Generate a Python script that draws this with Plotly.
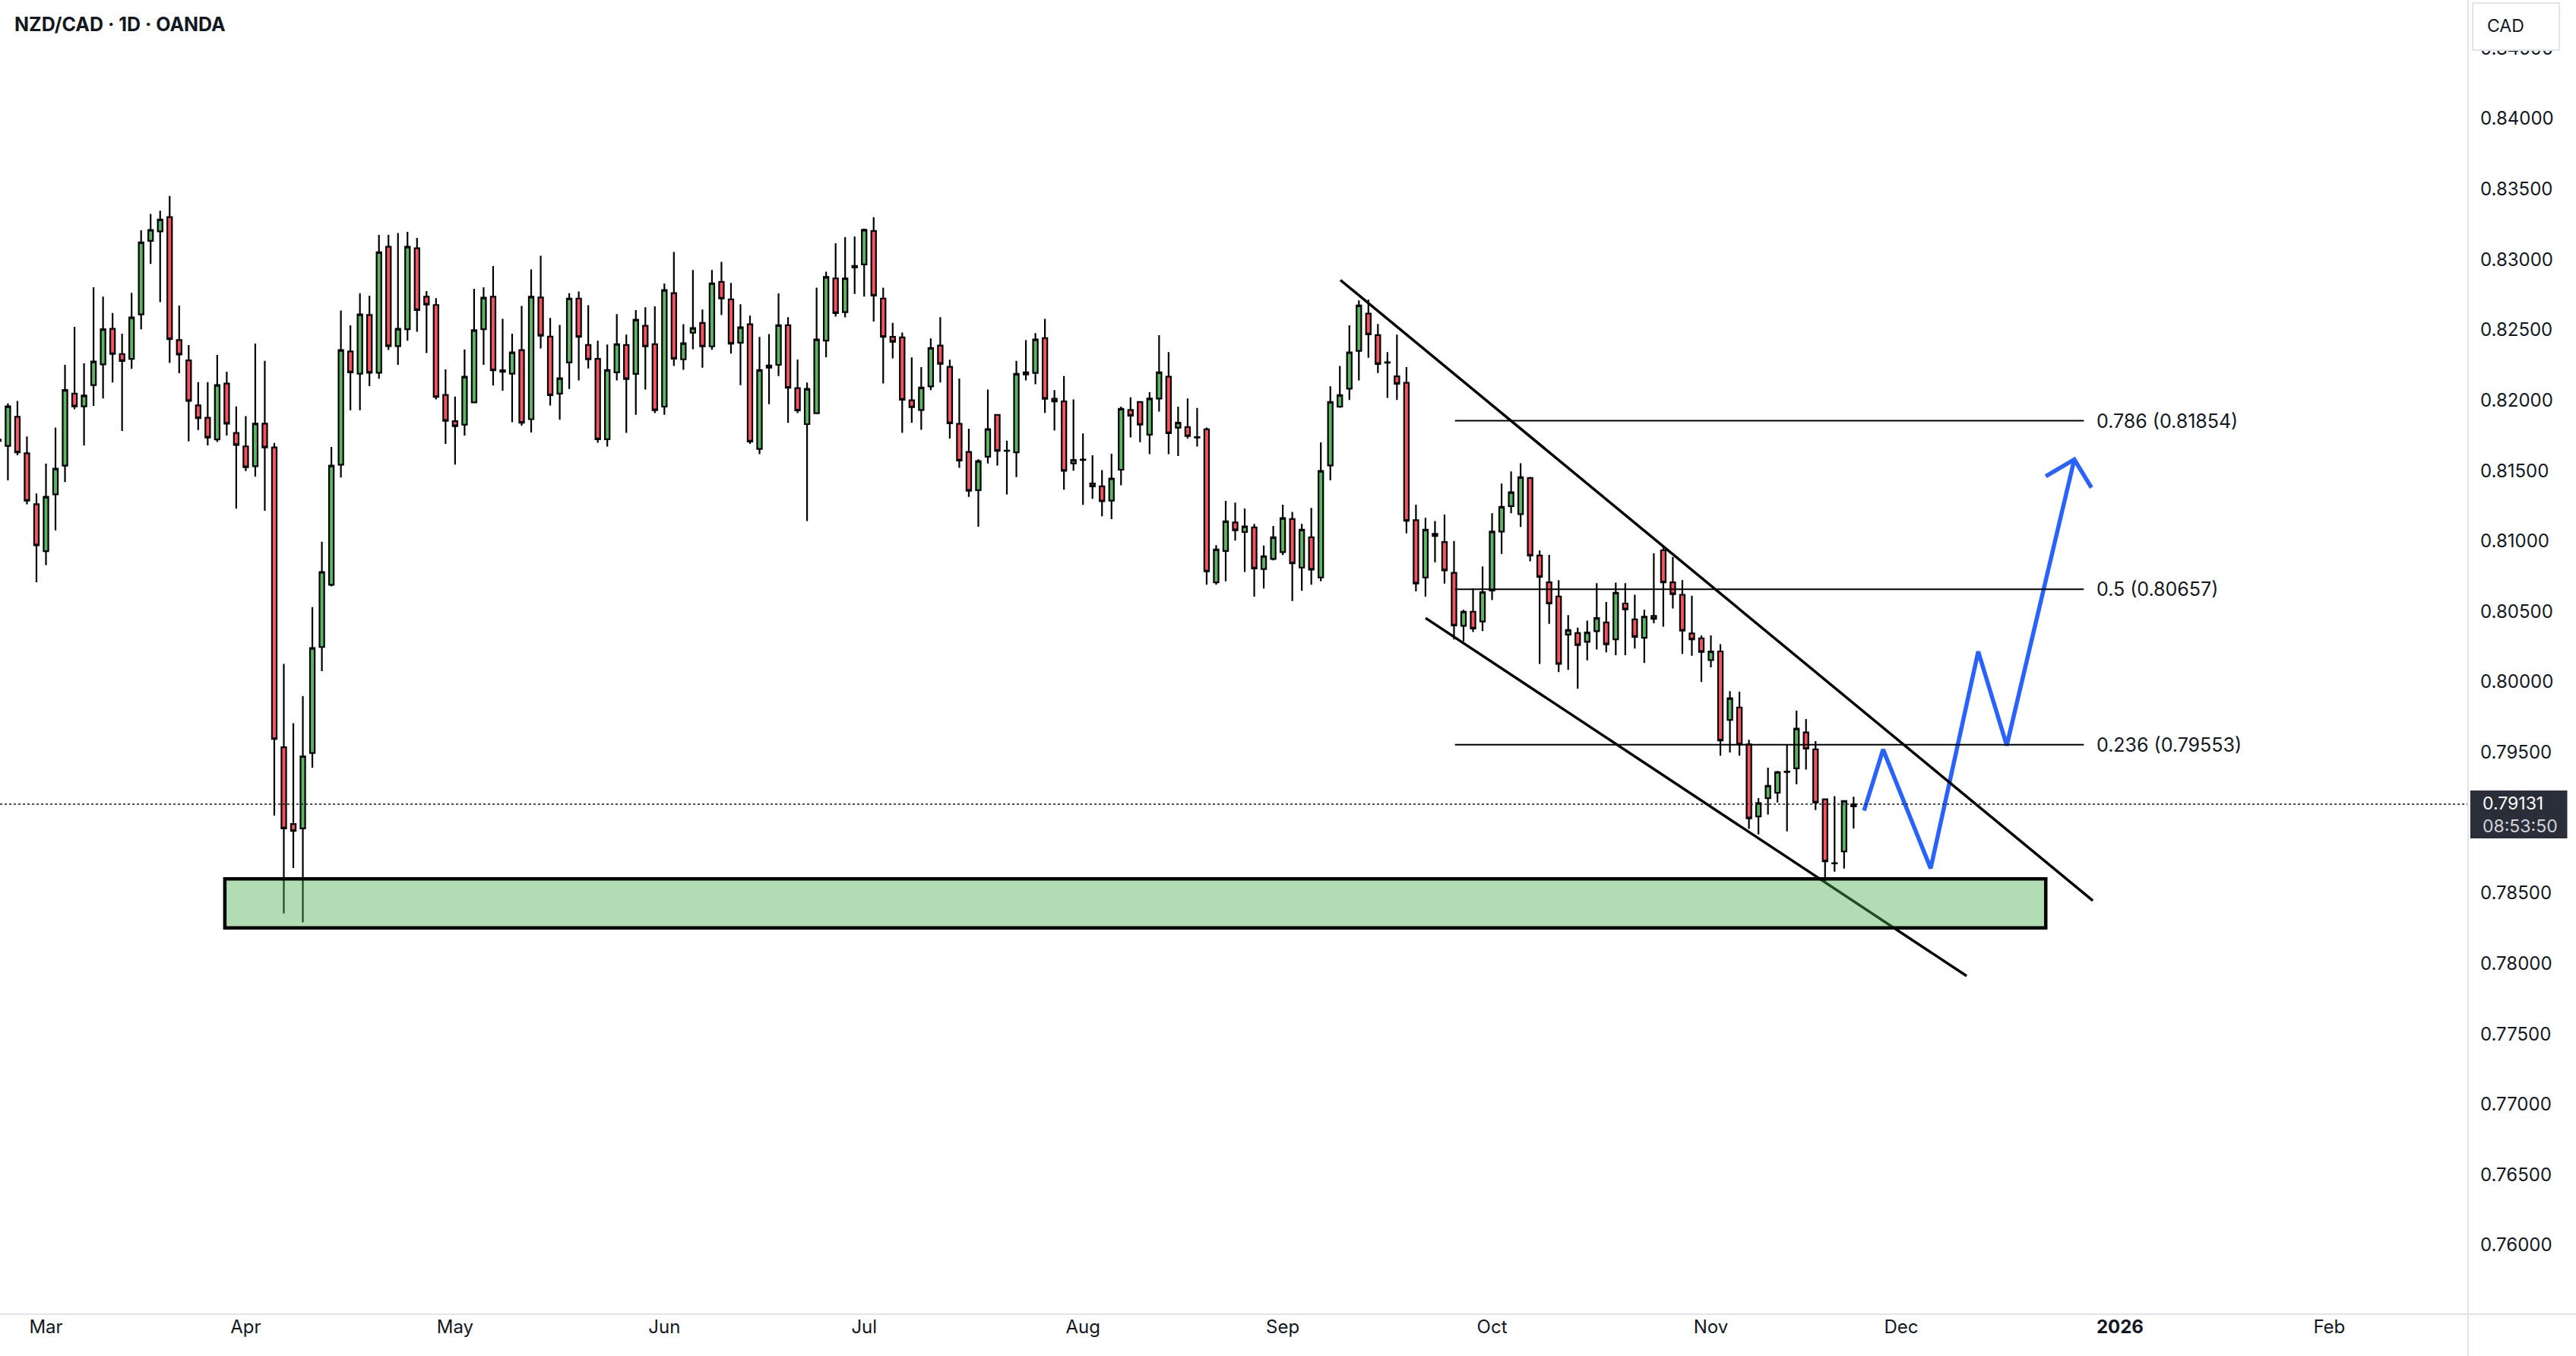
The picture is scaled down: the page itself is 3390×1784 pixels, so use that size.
import numpy as np
import pandas as pd
import plotly.graph_objects as go

# ---------------- data (NZD/CAD daily, OANDA) ----------------
START = "2025-02-24"
opens = [0.81720,0.81675,0.81882,0.81623,0.81261,0.80928,0.81331,0.81535,0.82047,0.81956,
0.82107,0.82254,0.82507,0.82328,0.82293,0.82609,0.83132,0.83199,0.83300,0.82427,
0.82283,0.81963,0.81875,0.81721,0.82118,0.81767,0.81672,0.81531,0.81833,0.81665,
0.79535,0.78990,0.78959,0.79495,0.80247,0.80689,0.81542,0.82346,0.82188,0.82605,
0.82195,0.83090,0.82384,0.82504,0.83079,0.82735,0.82676,0.82037,0.81851,0.81826,
0.81984,0.82504,0.82735,0.82212,0.82188,0.82356,0.81865,0.82729,0.82452,0.82047,
0.82268,0.82722,0.82392,0.82293,0.81723,0.82198,0.82392,0.82187,0.82528,0.82398,
0.81954,0.82760,0.82290,0.82479,0.82549,0.82382,0.82840,0.82716,0.82408,0.82539,
0.81654,0.82231,0.82251,0.82532,0.82086,0.81830,0.81908,0.82423,0.82865,0.82625,
0.82943,0.82964,0.83202,0.82722,0.82450,0.82446,0.81999,0.81931,0.82098,0.82388,
0.82237,0.81832,0.81632,0.81361,0.81598,0.81896,0.81642,0.81630,0.82183,0.82194,
0.82441,0.82010,0.81991,0.81551,0.81578,0.81408,0.81388,0.81287,0.81506,0.81931,
0.81987,0.81755,0.82012,0.82167,0.81805,0.81809,0.81737,0.81793,0.80706,0.80929,
0.81132,0.81064,0.81097,0.80801,0.80873,0.80921,0.81156,0.80811,0.81026,0.80741,
0.81536,0.81954,0.82082,0.82350,0.82615,0.82462,0.82270,0.82169,0.82123,0.81148,
0.80741,0.81035,0.80993,0.80774,0.80397,0.80498,0.80428,0.80649,0.81067,0.81248,
0.81191,0.81447,0.80897,0.80707,0.80606,0.80335,0.80346,0.80284,0.80360,0.80422,
0.80302,0.80556,0.80443,0.80313,0.80468,0.80934,0.80707,0.80618,0.80344,0.80309,
0.80154,0.80216,0.79730,0.79818,0.79556,0.79044,0.79174,0.79212,0.79359,0.79385,
0.79640,0.79521,0.79165,0.78710,0.78796,0.79115]
highs = [0.81760,0.81977,0.81995,0.81742,0.81338,0.81549,0.81805,0.82251,0.82521,0.82262,
0.82802,0.82735,0.82619,0.82472,0.82763,0.83206,0.83322,0.83346,0.83451,0.82672,
0.82391,0.82128,0.82128,0.82321,0.82202,0.81956,0.81886,0.82402,0.82279,0.81696,
0.80127,0.79706,0.79899,0.80531,0.80994,0.81668,0.82637,0.82532,0.82760,0.82742,
0.83174,0.83174,0.83188,0.83195,0.83153,0.82774,0.82725,0.82219,0.82026,0.82360,
0.82791,0.82802,0.82953,0.82577,0.82472,0.82669,0.82928,0.83026,0.82584,0.82534,
0.82760,0.82772,0.82675,0.82423,0.82396,0.82611,0.82466,0.82640,0.82660,0.82666,
0.82828,0.83053,0.82540,0.82925,0.82644,0.82925,0.82983,0.82832,0.82681,0.82600,
0.82450,0.82470,0.82758,0.82590,0.82289,0.82125,0.82799,0.82912,0.83115,0.83158,
0.83162,0.83218,0.83299,0.82799,0.82549,0.82481,0.82303,0.82235,0.82439,0.82590,
0.82287,0.82154,0.81797,0.81580,0.82076,0.81900,0.81712,0.82280,0.82427,0.82477,
0.82578,0.82072,0.82171,0.82005,0.81764,0.81609,0.81503,0.81619,0.81954,0.82020,
0.81990,0.82057,0.82462,0.82342,0.81954,0.82012,0.81944,0.81805,0.80970,0.81285,
0.81272,0.81231,0.81121,0.80967,0.81107,0.81258,0.81206,0.81121,0.81235,0.81700,
0.82098,0.82243,0.82532,0.82708,0.82714,0.82541,0.82342,0.82466,0.82235,0.81258,
0.81165,0.81142,0.81187,0.81000,0.80511,0.80664,0.80819,0.81197,0.81408,0.81494,
0.81552,0.81455,0.80933,0.80902,0.80722,0.80474,0.80385,0.80435,0.80701,0.80567,
0.80705,0.80701,0.80618,0.80511,0.80912,0.80955,0.80887,0.80722,0.80612,0.80329,
0.80329,0.80267,0.79934,0.79930,0.79588,0.79174,0.79390,0.79367,0.79552,0.79795,
0.79736,0.79579,0.79170,0.79188,0.79160,0.79183]
lows = [0.81680,0.81430,0.81609,0.81261,0.80707,0.80829,0.81075,0.81419,0.81935,0.81679,
0.81960,0.82012,0.82125,0.81781,0.82223,0.82504,0.82967,0.82697,0.82265,0.82191,
0.81707,0.81788,0.81679,0.81703,0.81749,0.81229,0.81496,0.81458,0.81215,0.79050,
0.78355,0.78678,0.78292,0.79390,0.80075,0.80678,0.81451,0.81928,0.81928,0.82100,
0.82153,0.82356,0.82251,0.82423,0.82486,0.82335,0.82005,0.81689,0.81542,0.81749,
0.81984,0.82251,0.82104,0.82068,0.81844,0.81819,0.81770,0.82367,0.81962,0.81861,
0.82080,0.82140,0.82226,0.81698,0.81671,0.82140,0.81768,0.81896,0.82076,0.81908,
0.81896,0.82243,0.82216,0.82361,0.82231,0.82357,0.82605,0.82330,0.82107,0.81690,
0.81617,0.81972,0.82171,0.81840,0.81908,0.81142,0.81902,0.82305,0.82594,0.82588,
0.82755,0.82735,0.82559,0.82119,0.82297,0.81768,0.81840,0.81789,0.82072,0.82125,
0.81727,0.81520,0.81313,0.81101,0.81551,0.81536,0.81330,0.81454,0.82140,0.82113,
0.81910,0.81786,0.81365,0.81499,0.81256,0.81299,0.81175,0.81155,0.81396,0.81735,
0.81702,0.81617,0.81919,0.81617,0.81603,0.81727,0.81671,0.80689,0.80689,0.80714,
0.81003,0.80780,0.80605,0.80662,0.80863,0.80900,0.80574,0.80646,0.80689,0.80714,
0.81431,0.81946,0.82001,0.82140,0.82301,0.82193,0.82016,0.82001,0.81055,0.80642,
0.80605,0.80849,0.80698,0.80301,0.80288,0.80354,0.80360,0.80581,0.80908,0.81197,
0.81100,0.80856,0.80127,0.80412,0.80069,0.80085,0.79951,0.80152,0.80230,0.80209,
0.80189,0.80189,0.80236,0.80133,0.80416,0.80391,0.80521,0.80199,0.80185,0.79999,
0.80102,0.79475,0.79498,0.79475,0.78955,0.78916,0.79057,0.79143,0.78938,0.79273,
0.79376,0.79089,0.78580,0.78652,0.78674,0.78958]
closes = [0.81710,0.81956,0.81630,0.81286,0.80970,0.81314,0.81514,0.82072,0.81956,0.82033,
0.82275,0.82504,0.82328,0.82279,0.82588,0.83121,0.83209,0.83283,0.82434,0.82325,
0.81995,0.81872,0.81735,0.82107,0.81833,0.81682,0.81524,0.81833,0.81665,0.79594,
0.78959,0.78941,0.79471,0.80240,0.80780,0.81535,0.82356,0.82198,0.82609,0.82195,
0.83051,0.82384,0.82507,0.83090,0.82640,0.82679,0.82023,0.81854,0.81816,0.82167,
0.82497,0.82728,0.82212,0.82202,0.82339,0.81840,0.82735,0.82458,0.82036,0.82156,
0.82722,0.82450,0.82290,0.81723,0.82214,0.82398,0.82150,0.82572,0.82382,0.81929,
0.82782,0.82295,0.82404,0.82512,0.82382,0.82830,0.82722,0.82402,0.82518,0.81706,
0.82214,0.82247,0.82532,0.82088,0.81927,0.82080,0.82431,0.82875,0.82619,0.82865,
0.82954,0.83210,0.82743,0.82450,0.82415,0.82003,0.81950,0.82090,0.82371,0.82258,
0.81836,0.81572,0.81357,0.81567,0.81795,0.81640,0.81640,0.82187,0.82198,0.82431,
0.82010,0.81991,0.81499,0.81576,0.81576,0.81388,0.81282,0.81444,0.81939,0.81890,
0.81826,0.82012,0.82198,0.81766,0.81840,0.81745,0.81735,0.80784,0.80940,0.81140,
0.81076,0.81103,0.80805,0.80892,0.81026,0.81163,0.80842,0.81080,0.80797,0.81497,
0.81987,0.82036,0.82340,0.82673,0.82468,0.82257,0.82266,0.82117,0.81144,0.80698,
0.81080,0.81051,0.80791,0.80400,0.80498,0.80379,0.80637,0.81067,0.81242,0.81346,
0.81453,0.80897,0.80746,0.80556,0.80127,0.80368,0.80261,0.80350,0.80453,0.80267,
0.80633,0.80515,0.80319,0.80463,0.80447,0.80707,0.80623,0.80364,0.80302,0.80213,
0.80216,0.79584,0.79883,0.79556,0.79030,0.79138,0.79262,0.79359,0.79362,0.79667,
0.79525,0.79143,0.78726,0.78712,0.79154,0.79131]

month_labels = ["Mar", "Apr", "May", "Jun", "Jul", "Aug", "Sep", "Oct", "Nov", "Dec", "<b>2026</b>", "Feb"]
month_starts = pd.date_range("2025-03-01", "2026-02-01", freq="MS")

price_ticks = [round(0.760 + 0.005 * i, 3) for i in range(18)]

# drawings (bar offset from first bar, price)
fib_ratios = [0.786, 0.5, 0.236]
fib_prices = [0.81854, 0.80657, 0.79553]
fib_x = [153.1, 219.2]
channel_upper_x = [141.06, 220.14]
channel_upper_y = [0.82853, 0.78446]
channel_lower_x = [150.01, 206.88]
channel_lower_y = [0.80453, 0.77911]
zone_x = [23.8, 215.2]
zone_y = [0.78252, 0.78601]
path_x = [196.1, 198.1, 203.1, 208.1, 211.1, 218.2]
path_y = [0.79085, 0.79519, 0.78675, 0.80215, 0.79548, 0.81579]
head_x = [215.2, 218.2, 220.0]
head_y = [0.81459, 0.81579, 0.81379]
countdown = "08:53:50"
currency = "CAD"

# ---------------- figure ----------------
cal = pd.bdate_range(START, "2026-03-31")
n = len(opens)
xb = np.arange(n)
tick_pos = [int(np.searchsorted(cal.values, np.datetime64(d))) for d in month_starts]

FONT = "Inter, Roboto, 'DejaVu Sans', sans-serif"
INK = "#131722"
GREEN = "#5CB562"
RED = "#F7525F"

last = closes[-1]
label_lo, label_hi = last - 0.00243, last + 0.00097
# the last-price badge hides the axis labels that sit under it
shown_ticks = [t for t in price_ticks if not (label_lo - 0.0008 < t < label_hi + 0.0008)]

fig = go.Figure()
fig.add_trace(go.Candlestick(
    x=xb, open=opens, high=highs, low=lows, close=closes,
    increasing=dict(fillcolor=GREEN, line=dict(color="black", width=2.2)),
    decreasing=dict(fillcolor=RED, line=dict(color="black", width=2.2)),
    whiskerwidth=0, hoverinfo="skip", showlegend=False,
))
fig.add_trace(go.Scatter(x=path_x, y=path_y, mode="lines",
                         line=dict(color="#2962FF", width=5.5),
                         hoverinfo="skip", showlegend=False))
fig.add_trace(go.Scatter(x=head_x, y=head_y, mode="lines",
                         line=dict(color="#2962FF", width=5.5),
                         hoverinfo="skip", showlegend=False))

shapes = []
# channel lines
shapes.append(dict(type="line", xref="x", yref="y", x0=channel_upper_x[0], x1=channel_upper_x[1],
                   y0=channel_upper_y[0], y1=channel_upper_y[1], line=dict(color="black", width=3.5)))
shapes.append(dict(type="line", xref="x", yref="y", x0=channel_lower_x[0], x1=channel_lower_x[1],
                   y0=channel_lower_y[0], y1=channel_lower_y[1], line=dict(color="black", width=3.5)))
# fib levels
for fp in fib_prices:
    shapes.append(dict(type="line", xref="x", yref="y", x0=fib_x[0], x1=fib_x[1], y0=fp, y1=fp,
                       line=dict(color="black", width=2)))
# demand zone
shapes.append(dict(type="rect", xref="x", yref="y", x0=zone_x[0], x1=zone_x[1], y0=zone_y[0], y1=zone_y[1],
                   fillcolor="rgba(76,175,80,0.43)", line=dict(color="black", width=4.5), layer="above"))
# last price dotted line
shapes.append(dict(type="line", xref="paper", yref="y", x0=0, x1=1, y0=last, y1=last,
                   line=dict(color=INK, width=1.6, dash="dot")))
# axis separators
shapes.append(dict(type="line", xref="paper", yref="paper", x0=1.0003, x1=1.0003, y0=-0.04, y1=1,
                   line=dict(color="#E0E3EB", width=2)))
shapes.append(dict(type="line", xref="paper", yref="paper", x0=0, x1=1.05, y0=0, y1=0,
                   line=dict(color="#E0E3EB", width=2)))
# last price label box
shapes.append(dict(type="rect", xref="paper", yref="y", x0=1.0012, x1=1.0405,
                   y0=label_lo, y1=label_hi,
                   fillcolor="#2A2E39", line=dict(width=0), layer="above"))
# currency box (covers most of the top tick label, as in the original)
shapes.append(dict(type="rect", xref="paper", yref="paper", x0=1.0022, x1=1.0373, y0=0.9618, y1=0.9977,
                   fillcolor="white", line=dict(color="#E0E3EB", width=2), layer="above"))
fig.update_layout(shapes=shapes)

ann = []
ann.append(dict(text="<b>NZD/CAD · 1D · OANDA</b>", xref="paper", yref="paper", x=0.0052, y=0.9815,
                xanchor="left", yanchor="middle", showarrow=False, font=dict(size=25, color=INK, family=FONT)))
for r, fp in zip(fib_ratios, fib_prices):
    ann.append(dict(text=f"{r:g} ({fp:.5f})", xref="x", yref="y", x=220.4, y=fp, xanchor="left",
                    yanchor="middle", showarrow=False, font=dict(size=25, color=INK, family=FONT)))
ann.append(dict(text=currency, xref="paper", yref="paper", x=1.0154, y=0.9805, xanchor="center", yanchor="middle",
                showarrow=False, font=dict(size=23, color=INK, family=FONT)))
ann.append(dict(text=f"{last:.5f}<br><span style='color:#D1D4DC'>{countdown}</span>",
                xref="paper", yref="y", x=1.0055, y=last - 0.00073, xanchor="left", yanchor="middle",
                align="left", showarrow=False, font=dict(size=23, color="white", family=FONT)))
fig.update_layout(annotations=ann)

fig.update_layout(
    width=3390, height=1784,
    margin=dict(l=0, r=143, t=0, b=55),
    paper_bgcolor="white", plot_bgcolor="white",
    font=dict(family=FONT, color=INK),
    showlegend=False,
    xaxis=dict(range=[0.168, 259.51], showgrid=False, zeroline=False, showline=False,
               tickmode="array", tickvals=tick_pos, ticktext=month_labels, ticks="",
               tickfont=dict(size=24, color=INK, family=FONT), rangeslider=dict(visible=False),
               fixedrange=True),
    yaxis=dict(range=[0.75509, 0.84842], side="right", showgrid=False, zeroline=False, showline=False,
               tickmode="array", tickvals=shown_ticks, tickformat=".5f", ticks="",
               ticklabelstandoff=16, tickfont=dict(size=24, color=INK, family=FONT), fixedrange=True),
)

fig.write_html("out.html", config=dict(displayModeBar=False, staticPlot=True))
